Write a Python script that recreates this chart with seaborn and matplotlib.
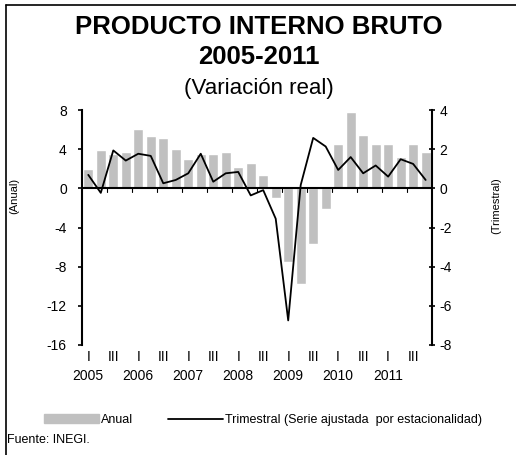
import pandas as pd
import matplotlib
matplotlib.use('Agg')
import matplotlib.pyplot as plt
import seaborn as sns
from matplotlib.lines import Line2D
from matplotlib.patches import Patch

sns.set_style("white")
plt.rcParams['font.family'] = ['Liberation Sans', 'DejaVu Sans']
plt.rcParams['axes.unicode_minus'] = False
for k in ['text.color', 'axes.labelcolor', 'xtick.color', 'ytick.color', 'axes.edgecolor']:
    plt.rcParams[k] = 'black'

# ====================================================
#                  DATA
# ====================================================

years = ["2005", "2006", "2007", "2008", "2009", "2010", "2011"]
quarters = ["I", "II", "III", "IV"]

# Variacion anual (%), eje izquierdo
anual = [2.0, 3.9, 3.5, 3.7, 6.1, 5.4, 5.2, 4.0,
         3.0, 3.5, 3.5, 3.7, 2.2, 2.6, 1.4, -1.0,
         -7.5, -9.8, -5.7, -2.1, 4.5, 7.8, 5.5, 4.5,
         4.5, 3.2, 4.5, 3.7]

# Variacion trimestral desestacionalizada (%), eje derecho
trimestral = [0.69, -0.23, 1.94, 1.42, 1.77, 1.66, 0.26, 0.43,
              0.77, 1.77, 0.34, 0.77, 0.84, -0.36, -0.09, -1.55,
              -6.75, 0.17, 2.58, 2.14, 0.94, 1.60, 0.77, 1.17,
              0.60, 1.49, 1.25, 0.43]

periods = [f"{y}-{q}" for y in years for q in quarters]
df = pd.DataFrame({"periodo": periods, "anual": anual, "trimestral": trimestral})
df["pos"] = range(len(df))

# ====================================================
#                  FIGURE
# ====================================================

fig = plt.figure(figsize=(5.16, 4.55), dpi=100)
ax = fig.add_axes([0.159, 0.242, 0.678, 0.516])

sns.barplot(data=df, x="pos", y="anual", color="#C0C0C0", saturation=1,
            width=0.8, ax=ax)
ax.set_xlim(-0.5, len(df) - 0.5)
ax.set_ylim(-16, 8)
ax.set_yticks(range(-16, 9, 4))

ax2 = ax.twinx()
sns.lineplot(data=df, x="pos", y="trimestral", color="black", lw=1.3, ax=ax2)
ax2.set_ylim(-8, 4)
ax2.set_yticks(range(-8, 5, 2))
ax2.set_xlim(-0.5, len(df) - 0.5)

# zero line with small marks every two quarters
ax.axhline(0, color="black", lw=1.5, zorder=3)
for b in range(1, len(df) - 1, 2):
    ax.plot([b + 0.5, b + 0.5], [0, -0.35], color="black", lw=0.8, zorder=3)

# x labels: I / III, years under I
xt, xl = [], []
for i, y in enumerate(years):
    xt += [4 * i, 4 * i + 2]
    xl += [f"I\n{y}", "III"]
ax.set_xticks(xt)
ax.set_xticklabels(xl, fontsize=10, linespacing=1.45)
ax.tick_params(axis="x", length=0, pad=4)

for a in (ax, ax2):
    a.set_xlabel("")
    a.set_ylabel("")
    a.spines["top"].set_visible(False)
    a.spines["bottom"].set_visible(False)

ax.spines["left"].set_linewidth(1.5)
ax.spines["right"].set_visible(False)
ax2.spines["left"].set_visible(False)
ax2.spines["right"].set_linewidth(1.5)
ax.tick_params(axis="y", direction="out", length=3, width=1.2, labelsize=10, pad=8)
ax2.tick_params(axis="y", direction="inout", length=4.5, width=1.2, labelsize=10, pad=3)

# axis titles
fig.text(0.027, 0.569, "(Anual)", rotation=90, ha="center", va="center", fontsize=8)
fig.text(0.962, 0.549, "(Trimestral)", rotation=90, ha="center", va="center", fontsize=8)

# title
fig.text(0.502, 0.94, "PRODUCTO INTERNO BRUTO", ha="center", va="center",
         fontsize=18.5, fontweight="bold")
fig.text(0.502, 0.874, "2005-2011", ha="center", va="center",
         fontsize=18.5, fontweight="bold")
fig.text(0.502, 0.806, "(Variación real)", ha="center", va="center", fontsize=16)

# legend
handles = [Patch(color="#C0C0C0"), Line2D([], [], color="black", lw=1.3)]
fig.legend(handles, ["Anual", "Trimestral (Serie ajustada  por estacionalidad)"],
           loc="center", bbox_to_anchor=(0.51, 0.077), ncol=2, frameon=False,
           fontsize=9, handlelength=4.4, handleheight=0.65, handletextpad=0.15,
           columnspacing=2.8)

fig.text(0.014, 0.033, "Fuente: INEGI.", ha="left", va="center", fontsize=9)

# frame around the figure (left and top)
fig.add_artist(Line2D([0.011, 0.011], [0.0, 0.989], color="black", lw=1.2))
fig.add_artist(Line2D([0.011, 1.0], [0.989, 0.989], color="black", lw=1.2))

fig.savefig("out.png", dpi=100)
plt.close(fig)
